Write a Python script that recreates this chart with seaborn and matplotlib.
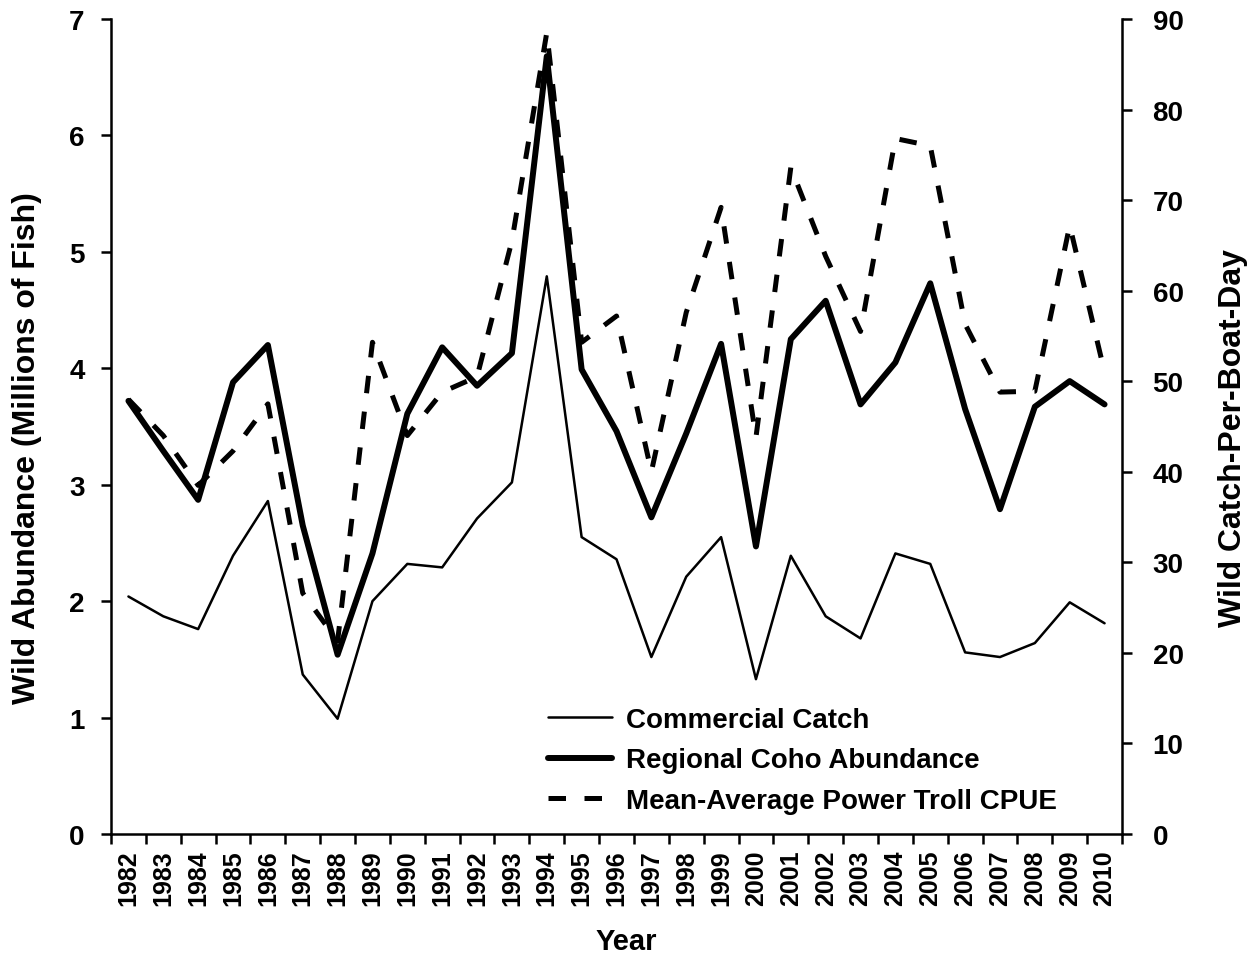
import seaborn as sns
import matplotlib.pyplot as plt
import pandas as pd
import numpy as np

years = list(range(1982, 2011))
commercial_catch = [2.04, 1.87, 1.76, 2.39, 2.86, 1.37, 0.99, 2.00, 2.32, 2.29,
                    2.71, 3.02, 4.79, 2.55, 2.36, 1.52, 2.21, 2.55, 1.33, 2.39,
                    1.87, 1.68, 2.41, 2.32, 1.56, 1.52, 1.64, 1.99, 1.81]
coho_abundance = [3.72, 3.29, 2.87, 3.88, 4.20, 2.65, 1.54, 2.41, 3.61, 4.18,
                  3.85, 4.13, 6.68, 3.99, 3.46, 2.72, 3.44, 4.21, 2.47, 4.25,
                  4.58, 3.69, 4.05, 4.73, 3.65, 2.79, 3.67, 3.89, 3.69]
troll_cpue = [48.0, 44.0, 38.5, 42.3, 47.5, 26.6, 21.3, 54.3, 44.0, 48.8,
              50.5, 65.5, 88.5, 54.3, 57.2, 40.0, 57.6, 69.2, 43.8, 73.6,
              63.8, 55.5, 76.8, 76.0, 56.3, 48.8, 48.9, 67.2, 51.0]

sns.set_style("ticks")
plt.rcParams['font.family'] = ['Liberation Sans', 'DejaVu Sans']
plt.rcParams['font.weight'] = 'bold'
plt.rcParams['axes.labelweight'] = 'bold'
plt.rcParams['text.color'] = 'black'
plt.rcParams['axes.labelcolor'] = 'black'
plt.rcParams['xtick.color'] = 'black'
plt.rcParams['ytick.color'] = 'black'
plt.rcParams['axes.edgecolor'] = 'black'

df = pd.DataFrame({
    'pos': np.arange(len(years)),
    'year': years,
    'catch': commercial_catch,
    'abundance': coho_abundance,
    'cpue': troll_cpue,
})

fig = plt.figure(figsize=(12.5, 9.62), dpi=100)
ax = fig.add_axes([0.0888, 0.132, 0.8088, 0.8472])
ax2 = ax.twinx()

sns.lineplot(data=df, x='pos', y='catch', ax=ax, color='black', lw=1.8, legend=False)
sns.lineplot(data=df, x='pos', y='abundance', ax=ax, color='black', lw=4.3, legend=False)
sns.lineplot(data=df, x='pos', y='cpue', ax=ax2, color='black', lw=3.6,
             linestyle=(0, (3.5, 3.7)), legend=False)

# x axis: ticks between categories, labels at the centres
ax.set_xlim(-0.5, len(years) - 0.5)
ax.set_xticks(np.arange(-0.5, len(years), 1.0))
ax.set_xticklabels([])
ax.set_xticks(df['pos'], minor=True)
ax.set_xticklabels([str(y) for y in years], minor=True, rotation=90, fontsize=18)
ax.tick_params(axis='x', which='major', direction='out', length=7, width=1.8)
ax.tick_params(axis='x', which='minor', length=0, pad=11)

ax.set_ylim(0, 7)
ax.set_yticks(range(0, 8))
ax.tick_params(axis='y', direction='out', length=7, width=1.8, labelsize=20, pad=12)
ax2.set_ylim(0, 90)
ax2.set_yticks(range(0, 91, 10))
ax2.tick_params(axis='y', direction='out', length=7, width=1.8, labelsize=20, pad=15)

for s in ['top', 'right']:
    ax.spines[s].set_visible(False)
for s in ['top', 'left', 'bottom']:
    ax2.spines[s].set_visible(False)
for a in (ax, ax2):
    for s in a.spines.values():
        s.set_linewidth(1.8)
        s.set_color('black')

ax.set_xlabel('Year', fontsize=21)
ax.xaxis.set_label_coords(0.51, -0.114)
ax.set_ylabel('Wild Abundance (Millions of Fish)', fontsize=23)
ax.yaxis.set_label_coords(-0.068, 0.475)
ax2.set_ylabel('Wild Catch-Per-Boat-Day', fontsize=23)
ax2.yaxis.set_label_coords(1.095, 0.487)

handles = ax.get_lines()[:2] + ax2.get_lines()[:1]
labels = ['Commercial Catch', 'Regional Coho Abundance', 'Mean-Average Power Troll CPUE']
fig.legend(handles, labels, loc='upper left', bbox_to_anchor=(548 / 1250, 1 - 708 / 962),
           frameon=False, borderpad=0, borderaxespad=0, handlelength=2.3,
           handletextpad=0.5, labelspacing=0.52, prop={'size': 20, 'weight': 'bold'})

fig.savefig('out.png', dpi=100)
